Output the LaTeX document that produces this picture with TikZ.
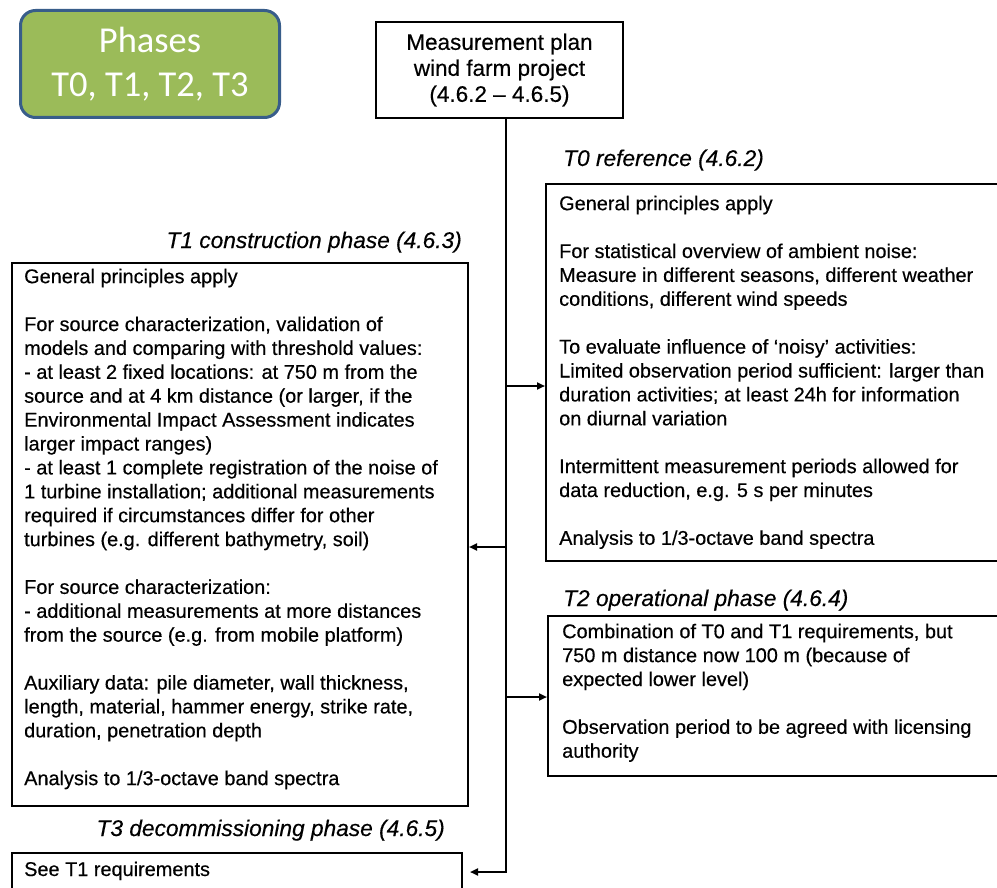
\documentclass[tikz,border=0pt]{standalone}
\usepackage{fontspec}
\setmainfont[FakeBold=0.4]{Liberation Sans}
\newfontfamily\calibri{Carlito}
\usetikzlibrary{arrows.meta}
\definecolor{phgreen}{RGB}{155,187,89}
\definecolor{phblue}{RGB}{56,93,138}
\tikzset{
  frame/.style={draw=black, line width=2pt, rectangle, inner sep=0pt, anchor=north west},
  body/.style={anchor=north west, align=left, inner sep=0pt, font=\fontsize{19.9}{23.9}\selectfont},
  phtitle/.style={inner sep=0pt, font=\fontsize{22.7}{26}\selectfont\itshape},
  conn/.style={line width=2.4pt, -{Triangle[length=8pt,width=7pt]}},
}
\begin{document}
\begin{tikzpicture}[x=1pt,y=-1pt]
\clip (0,0) rectangle (997,888);
\fill[white] (0,0) rectangle (997,888);

% Phases box
\node[draw=phblue, fill=phgreen, line width=3pt, rounded corners=15pt,
      minimum width=259pt, minimum height=107pt, anchor=north west, inner sep=0pt,
      align=center, text=white, font=\calibri\fontsize{36.5}{44}\selectfont]
      (ph) at (19,9) {Phases\\T0, T1, T2, T3};

% Measurement plan box
\node[frame, minimum width=247pt, minimum height=96pt, align=center,
      font=\fontsize{22.5}{26}\selectfont] (mp) at (375,21)
      {Measurement plan\\wind farm project\\(4.6.2 -- 4.6.5)};

% Titles
\node[phtitle, anchor=base west] (t0title) at (563,166) {T0 reference (4.6.2)};
\node[phtitle, anchor=base east] (t1title) at (462,248) {T1 construction phase (4.6.3)};
\node[phtitle, anchor=base west] (t2title) at (563,606) {T2 operational phase (4.6.4)};
\node[phtitle, anchor=base east] (t3title) at (445,836) {T3 decommissioning phase (4.6.5)};

% Boxes
\node[frame, minimum width=465pt, minimum height=377pt] (t0) at (545,183) {};
\node[frame, minimum width=456pt, minimum height=543pt] (t1) at (11,262) {};
\node[frame, minimum width=463pt, minimum height=160pt] (t2) at (547,615) {};
\node[frame, minimum width=450pt, minimum height=60pt] (t3) at (11,852) {};

% Box texts
\node[body] (t0txt) at (559,194) {\rule{0pt}{16pt}General principles apply\\[23.9pt]
For statistical overview of ambient noise:\\
Measure in different seasons, different weather\\
conditions, different wind speeds\\[23.9pt]
To evaluate influence of ‘noisy’ activities:\\
Limited observation period sufficient: larger than\\
duration activities; at least 24h for information\\
on diurnal variation\\[23.9pt]
Intermittent measurement periods allowed for\\
data reduction, e.g. 5 s per minutes\\[23.9pt]
Analysis to 1/3-octave band spectra};

\node[body] (t1txt) at (24,267) {\rule{0pt}{16pt}General principles apply\\[23.9pt]
For source characterization, validation of\\
models and comparing with threshold values:\\
- at least 2 fixed locations: at 750 m from the\\
source and at 4 km distance (or larger, if the\\
Environmental Impact Assessment indicates\\
larger impact ranges)\\
- at least 1 complete registration of the noise of\\
1 turbine installation; additional measurements\\
required if circumstances differ for other\\
turbines (e.g. different bathymetry, soil)\\[23.9pt]
For source characterization:\\
- additional measurements at more distances\\
from the source (e.g. from mobile platform)\\[23.9pt]
Auxiliary data: pile diameter, wall thickness,\\
length, material, hammer energy, strike rate,\\
duration, penetration depth\\[23.9pt]
Analysis to 1/3-octave band spectra};

\node[body] (t2txt) at (562,622) {\rule{0pt}{16pt}Combination of T0 and T1 requirements, but\\
750 m distance now 100 m (because of\\
expected lower level)\\[23.9pt]
Observation period to be agreed with licensing\\
authority};

\node[body, anchor=base west] (t3txt) at (24,876) {See T1 requirements};

% Connectors
\coordinate (j0) at (506,386);
\coordinate (j1) at (506,547);
\coordinate (j2) at (506,697);
\coordinate (jb) at (506,872);
\draw[conn, shorten >=7pt] (mp.south -| jb) -- (jb) -- (jb -| t3.east);
\draw[conn] (j0) -- (j0 -| t0.west);
\draw[conn] (j1) -- (j1 -| t1.east);
\draw[conn] (j2) -- (j2 -| t2.west);
\end{tikzpicture}
\end{document}
